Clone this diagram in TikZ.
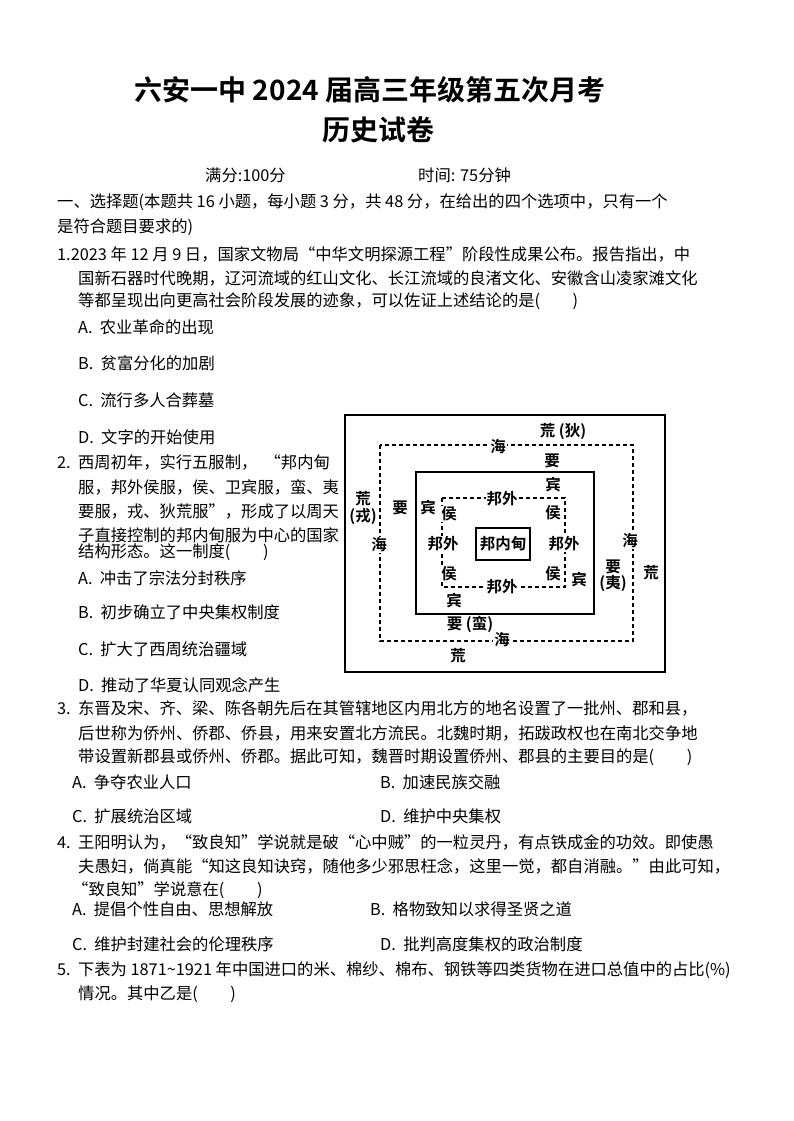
\documentclass[tikz,border=0pt]{standalone}
\usepackage{fontspec}
\setmainfont{Noto Sans CJK SC}
\newfontfamily\cjkb{Noto Sans CJK SC Bold}
\begin{document}
\begin{tikzpicture}[x=1pt,y=-1pt,
  txt/.style={anchor=west,inner sep=0pt,font=\fontsize{16.3}{17}\selectfont},
  lab/.style={inner sep=1pt,fill=white,font=\cjkb\fontsize{15.5}{16.5}\selectfont},
  dsh/.style={draw,dashed,line width=1.2pt,dash pattern=on 4pt off 3pt},
  sol/.style={draw,line width=1.4pt}]
\useasboundingbox[fill=white] (0,0) rectangle (793,1121);
\node[inner sep=0pt,font=\cjkb\fontsize{28}{29}\selectfont] (t1) at (370,90) {六安一中 2024 届高三年级第五次月考};
\node[inner sep=0pt,font=\cjkb\fontsize{28}{29}\selectfont] (t2) at (378,130) {历史试卷};
\node[txt] (s1) at (205,175) {满分:100分};
\node[txt] (s2) at (418,175) {时间: 75分钟};
\node[txt] (l1) at (57,202) {一、选择题(本题共 16 小题，每小题 3 分，共 48 分，在给出的四个选项中，只有一个};
\node[txt] (l2) at (57,227) {是符合题目要求的)};
\node[txt] (q1) at (57,254) {1.2023 年 12 月 9 日，国家文物局“中华文明探源工程”阶段性成果公布。报告指出，中};
\node[txt] (q1b) at (78,278) {国新石器时代晚期，辽河流域的红山文化、长江流域的良渚文化、安徽含山凌家滩文化};
\node[txt] (q1c) at (78,301) {等都呈现出向更高社会阶段发展的迹象，可以佐证上述结论的是(\hspace{2em})};
\node[txt] (q1A) at (78,327) {A.\ \ 农业革命的出现};
\node[txt] (q1B) at (78,363) {B.\ \ 贫富分化的加剧};
\node[txt] (q1C) at (78,400) {C.\ \ 流行多人合葬墓};
\node[txt] (q1D) at (78,437) {D.\ \ 文字的开始使用};
\node[txt] (q2) at (57,462) {2.\ \ 西周初年，实行五服制，\ \ “邦内甸};
\node[txt] (q2b) at (78,487) {服，邦外侯服，侯、卫宾服，蛮、夷};
\node[txt] (q2c) at (78,511) {要服，戎、狄荒服”，形成了以周天};
\node[txt] (q2d) at (78,535) {子直接控制的邦内甸服为中心的国家};
\node[txt] (q2e) at (78,552) {结构形态。这一制度(\hspace{2em})};
\node[txt] (q2A) at (78,578) {A.\ \ 冲击了宗法分封秩序};
\node[txt] (q2B) at (78,612) {B.\ \ 初步确立了中央集权制度};
\node[txt] (q2C) at (78,649) {C.\ \ 扩大了西周统治疆域};
\node[txt] (q2D) at (78,685) {D.\ \ 推动了华夏认同观念产生};
\node[txt] (q3) at (57,708) {3.\ \ 东晋及宋、齐、梁、陈各朝先后在其管辖地区内用北方的地名设置了一批州、郡和县，};
\node[txt] (q3b) at (78,733) {后世称为侨州、侨郡、侨县，用来安置北方流民。北魏时期，拓跋政权也在南北交争地};
\node[txt] (q3c) at (78,757) {带设置新郡县或侨州、侨郡。据此可知，魏晋时期设置侨州、郡县的主要目的是(\hspace{2em})};
\node[txt] (q3A) at (72,782) {A.\ \ 争夺农业人口};
\node[txt] (q3B) at (380,782) {B.\ \ 加速民族交融};
\node[txt] (q3C) at (72,816) {C.\ \ 扩展统治区域};
\node[txt] (q3D) at (380,816) {D.\ \ 维护中央集权};
\node[txt] (q4) at (57,842) {4.\ \ 王阳明认为，“致良知”学说就是破“心中贼”的一粒灵丹，有点铁成金的功效。即使愚};
\node[txt] (q4b) at (78,866) {夫愚妇，倘真能“知这良知诀窍，随他多少邪思枉念，这里一觉，都自消融。”由此可知，};
\node[txt] (q4c) at (72,890) {“致良知”学说意在(\hspace{2em})};
\node[txt] (q4A) at (72,909) {A.\ \ 提倡个性自由、思想解放};
\node[txt] (q4B) at (370,909) {B.\ \ 格物致知以求得圣贤之道};
\node[txt] (q4C) at (72,944) {C.\ \ 维护封建社会的伦理秩序};
\node[txt] (q4D) at (380,944) {D.\ \ 批判高度集权的政治制度};
\node[txt] (q5) at (57,970) {5.\ \ 下表为 1871\textasciitilde1921 年中国进口的米、棉纱、棉布、钢铁等四类货物在进口总值中的占比(\%)};
\node[txt] (q5b) at (78,994) {情况。其中乙是(\hspace{2em})};
% diagram
\draw[sol] (345,415) rectangle (665,672);
\draw[dsh] (380,445) rectangle (633,641);
\draw[sol] (416,472) rectangle (594,614);
\draw[dsh] (442,498) rectangle (565,587);
\node[sol,lab,minimum width=54pt,minimum height=32pt] (c) at (503,544) {邦内甸};
\node[lab] (a1) at (563,431) {荒 (狄)};
\node[lab] (a2) at (498,447) {海};
\node[lab] (a3) at (552,461) {要};
\node[lab] (a4) at (553,485) {宾};
\node[lab] (a5) at (502,499) {邦外};
\node[lab] (a6) at (449,514) {侯};
\node[lab] (a7) at (553,513) {侯};
\node[lab] (a8) at (428,508) {宾};
\node[lab] (a9) at (400,508) {要};
\node[lab,align=center] (a10) at (363,508) {荒\\(戎)};
\node[lab] (a11) at (379,545) {海};
\node[lab] (a12) at (443,544) {邦外};
\node[lab] (a13) at (564,544) {邦外};
\node[lab] (a14) at (449,574) {侯};
\node[lab] (a15) at (553,574) {侯};
\node[lab] (a16) at (579,580) {宾};
\node[lab] (a17) at (502,587) {邦外};
\node[lab] (a18) at (454,601) {宾};
\node[lab] (a19) at (470,624) {要 (蛮)};
\node[lab] (a20) at (502,640) {海};
\node[lab] (a21) at (458,656) {荒};
\node[lab] (a22) at (630,541) {海};
\node[lab,align=center] (a23) at (613,576) {要\\(夷)};
\node[lab] (a24) at (651,573) {荒};
\end{tikzpicture}
\end{document}
